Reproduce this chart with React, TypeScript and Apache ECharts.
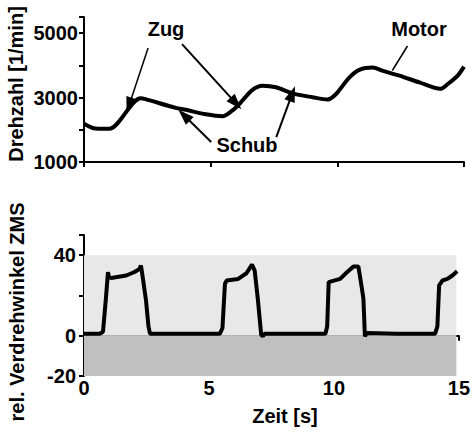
import React, { useEffect, useRef } from "react";
import * as echarts from "echarts";

const xTicks = [0, 5, 10, 15];

// Top: engine speed (Motor)
const motorTime = [0, 0.46, 0.99, 2.24, 2.43, 3.62, 4.02, 4.81, 5.47, 5.86, 6.13, 6.65, 7.05, 7.58, 8.23, 9.02, 9.62, 9.95, 10.47, 10.87, 11.4, 11.8, 12.45, 13.24, 14.06, 14.36, 14.75, 15];
const motorRpm = [2190, 2040, 2030, 2980, 2950, 2680, 2620, 2480, 2420, 2600, 2800, 3240, 3370, 3320, 3130, 3010, 2940, 3110, 3620, 3860, 3930, 3830, 3680, 3470, 3270, 3420, 3680, 3960];

// Bottom: relative twist angle ZMS
const zmsTime = [0, 0.3, 0.63, 0.76, 0.87, 0.96, 1.0, 1.09, 1.69, 2.0, 2.21, 2.28, 2.35, 2.48, 2.58, 2.64, 3.5, 4.5, 5.44, 5.54, 5.64, 5.71, 6.17, 6.5, 6.72, 6.83, 6.96, 7.09, 7.16, 7.22, 8.5, 9.66, 9.73, 9.79, 10.25, 10.52, 10.78, 10.98, 11.11, 11.18, 11.24, 11.32, 12.5, 14.05, 14.14, 14.21, 14.34, 14.54, 14.74, 14.93];
const zmsAngle = [1, 1, 1, 2, 17.6, 31.5, 29, 28.7, 29.9, 31.5, 33, 34.8, 29, 17.6, 4.6, 1, 1, 1, 1, 3.8, 25.8, 27.4, 28.2, 31, 35.3, 32.3, 17.6, 0.5, -0.3, 1, 1, 1, 4.6, 26.6, 28.2, 31.5, 34.3, 34.3, 24.2, 18.4, -0.3, 1.3, 1, 1, 4.6, 25, 27.4, 28.2, 29.9, 32];

// Annotation arrows (data coordinates: [time, rpm])
const arrowsTop: { from: [number, number]; to: [number, number]; width: number; head: boolean }[] = [
  { from: [2.53, 4540], to: [1.78, 2760], width: 1.5, head: true },
  { from: [3.87, 4660], to: [6.0, 2820], width: 2, head: true },
  { from: [12.77, 4600], to: [12.17, 3840], width: 1.5, head: false },
  { from: [5.02, 1620], to: [3.95, 2450], width: 2, head: true },
  { from: [7.59, 1770], to: [8.22, 3120], width: 2, head: true },
];

const FONT = "'Liberation Sans', Arial, sans-serif";
const FS = 20;

export default function App() {
  const ref = useRef<HTMLDivElement>(null);
  useEffect(() => {
    if (!ref.current) return;
    const chart = echarts.init(ref.current, null, { renderer: "svg" });
    const axisLine = { show: true, lineStyle: { color: "#000", width: 2 } };
    const axisTick = { show: true, inside: false, length: 5, lineStyle: { color: "#000", width: 2 } };
    const labelStyle = { color: "#000", fontFamily: FONT, fontWeight: "bold" as const, fontSize: FS };
    const textStyle = (t: string, x: number, y: number, rot = 0) => ({
      type: "text",
      x,
      y,
      rotation: rot,
      style: {
        text: t,
        font: `bold ${FS}px ${FONT}`,
        fill: "#000",
        align: "center",
        verticalAlign: "middle",
      },
    });
    chart.setOption({
      animation: false,
      backgroundColor: "#fff",
      grid: [
        { left: 84, right: 9, top: 17, height: 145 },
        { left: 84, right: 9, top: 235, height: 141 },
      ],
      xAxis: [
        {
          gridIndex: 0,
          type: "value",
          min: 0,
          max: 15,
          interval: 5,
          axisLine,
          axisTick,
          axisLabel: { show: false },
          splitLine: { show: false },
        },
        {
          gridIndex: 1,
          type: "value",
          min: 0,
          max: 15,
          interval: 5,
          axisLine,
          axisTick,
          axisLabel: { ...labelStyle, margin: 2, formatter: (v: number) => (xTicks.includes(v) ? String(v) : "") },
          splitLine: { show: false },
        },
      ],
      yAxis: [
        {
          gridIndex: 0,
          type: "value",
          min: 1000,
          max: 5500,
          interval: 1000,
          axisLine,
          axisTick,
          axisLabel: {
            ...labelStyle,
            margin: 6,
            formatter: (v: number) => (v === 1000 || v === 3000 || v === 5000 ? String(v) : ""),
          },
          splitLine: { show: false },
        },
        {
          gridIndex: 1,
          type: "value",
          min: -20,
          max: 50,
          interval: 20,
          axisLine,
          axisTick,
          axisLabel: {
            ...labelStyle,
            margin: 8,
            formatter: (v: number) => (v === 40 || v === 0 || v === -20 ? String(v) : ""),
          },
          splitLine: { show: false },
        },
      ],
      series: [
        {
          type: "line",
          xAxisIndex: 0,
          yAxisIndex: 0,
          data: motorTime.map((t, i) => [t, motorRpm[i]]),
          showSymbol: false,
          smooth: 0.3,
          lineStyle: { color: "#000", width: 4 },
          silent: true,
          markLine: {
            silent: true,
            animation: false,
            label: { show: false },
            data: arrowsTop.map((a) => [
              { coord: a.from, symbol: "none", lineStyle: { color: "#000", width: a.width, type: "solid" } },
              { coord: a.to, symbol: a.head ? "triangle" : "none", symbolSize: [11, 16] },
            ]),
          },
        },
        {
          type: "line",
          xAxisIndex: 1,
          yAxisIndex: 1,
          data: zmsTime.map((t, i) => [t, zmsAngle[i]]),
          showSymbol: false,
          lineStyle: { color: "#000", width: 4 },
          silent: true,
          z: 5,
          markArea: {
            silent: true,
            data: [
              [
                { coord: [0, 0], itemStyle: { color: "#e8e8e8" } },
                { coord: [14.9, 40] },
              ],
              [
                { coord: [0, -20], itemStyle: { color: "#c0c0c0" } },
                { coord: [14.9, 0] },
              ],
            ],
          },
        },
      ],
      graphic: [
        textStyle("Drehzahl [1/min]", 16, 84, Math.PI / 2),
        textStyle("rel. Verdrehwinkel ZMS", 17, 312, Math.PI / 2),
        textStyle("Zeit [s]", 285, 416),
        textStyle("Zug", 166, 29),
        textStyle("Motor", 419, 29),
        textStyle("Schub", 247, 145),
        textStyle("Zug", 296, 289),
        textStyle("Schub", 300, 356),
      ],
    });
    return () => chart.dispose();
  }, []);
  return <div ref={ref} style={{ width: 473, height: 435, position: "absolute", left: 0, top: 0 }} />;
}
